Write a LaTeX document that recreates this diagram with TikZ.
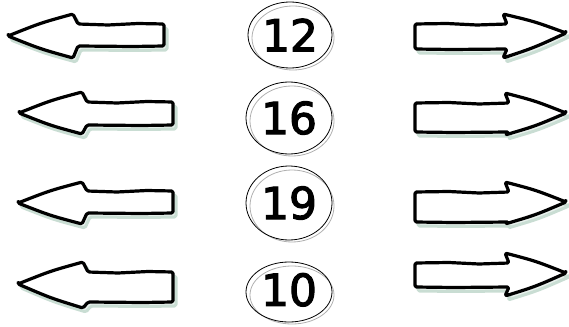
\documentclass[tikz,border=0pt]{standalone}
\usepackage{fontspec}
\setmainfont{DejaVu Sans}[BoldFont={DejaVu Sans}, BoldFeatures={FakeBold=2.6}]
\usetikzlibrary{shapes.geometric}
\definecolor{shadowgreen}{HTML}{C9DDD3}
\definecolor{ringgray}{HTML}{B0B0B0}
\tikzset{
  arrowline/.style={draw=black, line width=3.2pt, fill=white, line join=round, rounded corners=1.5pt},
  arrowshadow/.style={draw=shadowgreen, line width=3pt, fill=shadowgreen!40, line join=round, rounded corners=1.5pt},
  numring/.style={draw=black, line width=0.8pt, ellipse, inner sep=0pt, font=\fontsize{44}{44}\selectfont\bfseries},
  ringshadow/.style={draw=ringgray, line width=0.8pt},
}
% left arrow: #1 tip x, #2 tip y, #3 head x, #4 head top, #5 head bottom, #6 notch x, #7 shaft top, #8 shaft bottom, #9 right x
\newcommand{\leftarrowshape}[9]{(#1,#2) .. controls ({(#1+#3)/2},{(#2+#4)/2-2}) .. (#3,#4) -- (#6,#7) -- ({#6+30},{#7+1}) -- ({#6+60},{#7-0.5}) -- (#9,#7) -- (#9,#8) -- ({#6+55},{#8+0.5}) -- (#6,#8) -- (#3,#5) .. controls ({(#1+#3)/2},{(#2+#5)/2+2}) .. cycle}
\newcommand{\rightarrowshape}[9]{(#1,#2) .. controls ({(#1+#3)/2},{(#2+#4)/2-2}) .. (#3,#4) -- (#6,#7) -- ({#6-30},{#7+1}) -- ({#6-60},{#7-0.5}) -- (#9,#7) -- (#9,#8) -- ({#6-55},{#8+0.5}) -- (#6,#8) -- (#3,#5) .. controls ({(#1+#3)/2},{(#2+#5)/2+2}) .. cycle}
\begin{document}
\begin{tikzpicture}[x=1pt, y=-1pt]
\useasboundingbox (0,0) rectangle (569,326);
% left arrows
\foreach \tx/\ty/\hx/\ht/\hb/\nx/\st/\sb/\rx in {8/36/73/14/58/78/24/46/164, 19/113/82/92/134/87/102/125/173, 18/203/82/182/224/87/191/213/173, 18/284/83/262/308/88/272/302/173}{
  \begin{scope}[shift={(3,4)}]
    \path[arrowshadow] \leftarrowshape{\tx}{\ty}{\hx}{\ht}{\hb}{\nx}{\st}{\sb}{\rx};
  \end{scope}
  \path[arrowline] \leftarrowshape{\tx}{\ty}{\hx}{\ht}{\hb}{\nx}{\st}{\sb}{\rx};
}
% right arrows
\foreach \tx/\ty/\hx/\ht/\hb/\nx/\st/\sb/\lx in {566/33/503/14/58/507/24/49/415, 566/113/505/93/135/509/103/132/415, 566/202/505/182/224/509/192/222/415, 566/273/505/253/296/509/263/287/415}{
  \begin{scope}[shift={(3,4)}]
    \path[arrowshadow] \rightarrowshape{\tx}{\ty}{\hx}{\ht}{\hb}{\nx}{\st}{\sb}{\lx};
  \end{scope}
  \path[arrowline] \rightarrowshape{\tx}{\ty}{\hx}{\ht}{\hb}{\nx}{\st}{\sb}{\lx};
}
% number rings
\draw[ringshadow] (293,38) ellipse [x radius=41, y radius=32];
\draw[ringshadow] (292,121) ellipse [x radius=42, y radius=35];
\draw[ringshadow] (292,206) ellipse [x radius=42, y radius=36];
\draw[ringshadow] (292,295) ellipse [x radius=42, y radius=29];
\node[numring, minimum width=84pt, minimum height=66pt] (n12) at (290,35) {12};
\node[numring, minimum width=86pt, minimum height=72pt] (n16) at (289,118) {16};
\node[numring, minimum width=86pt, minimum height=74pt] (n19) at (289,203) {19};
\node[numring, minimum width=86pt, minimum height=60pt] (n10) at (289,292) {\raisebox{5pt}{10}};
\end{tikzpicture}
\end{document}
